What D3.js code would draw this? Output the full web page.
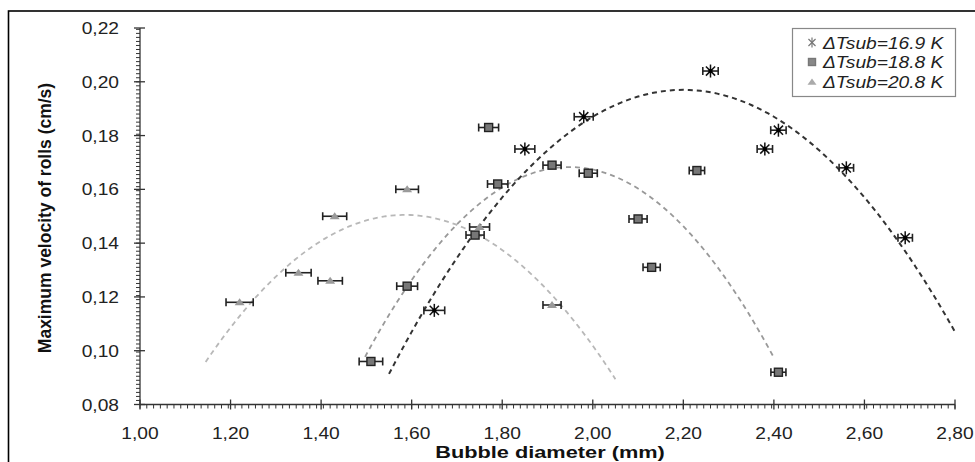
<!DOCTYPE html>
<html>
<head>
<meta charset="utf-8">
<script src="https://cdn.jsdelivr.net/npm/d3@7"></script>
<style>
  body { margin: 0; background: #fff; }
  svg { display: block; font-family: "Liberation Sans", Arial, sans-serif; }
</style>
</head>
<body>
<svg id="chart" width="975" height="462"></svg>
<script>
// series: bubble diameter (mm), max velocity (cm/s), x error (mm)
const d169X = [1.65, 1.85, 1.98, 2.26, 2.38, 2.41, 2.56, 2.69];
const d169Y = [0.115, 0.175, 0.187, 0.204, 0.175, 0.182, 0.168, 0.142];
const d169E = [0.023, 0.022, 0.021, 0.017, 0.017, 0.017, 0.016, 0.016];

const d188X = [1.51, 1.59, 1.74, 1.77, 1.79, 1.91, 1.99, 2.10, 2.13, 2.23, 2.41];
const d188Y = [0.096, 0.124, 0.143, 0.183, 0.162, 0.169, 0.166, 0.149, 0.131, 0.167, 0.092];
const d188E = [0.026, 0.023, 0.02, 0.022, 0.0225, 0.02, 0.02, 0.02, 0.019, 0.017, 0.0166];

const d208X = [1.22, 1.35, 1.42, 1.43, 1.59, 1.75, 1.91];
const d208Y = [0.118, 0.129, 0.126, 0.150, 0.160, 0.146, 0.117];
const d208E = [0.03, 0.028, 0.027, 0.0265, 0.025, 0.022, 0.02];

// polynomial trendlines: [vertex x, vertex y, curvature, from x, to x]
const trend169 = [2.20, 0.197, 0.25, 1.55, 2.80];
const trend188 = [1.948, 0.1683, 0.347, 1.497, 2.398];
const trend208 = [1.585, 0.1505, 0.2825, 1.145, 2.05];

const legendLabels = ["ΔTsub=16.9 K", "ΔTsub=18.8 K", "ΔTsub=20.8 K"];
const xTicks = [1.0, 1.2, 1.4, 1.6, 1.8, 2.0, 2.2, 2.4, 2.6, 2.8];
const yTicks = [0.08, 0.10, 0.12, 0.14, 0.16, 0.18, 0.20, 0.22];

const svg = d3.select("#chart");

const x = d3.scaleLinear().domain([1.0, 2.8]).range([140, 955]);
const y = d3.scaleLinear().domain([0.08, 0.22]).range([404.5, 28]);

const fmt = d3.formatLocale({ decimal: ",", thousands: ".", grouping: [3], currency: ["", ""] }).format(".2f");

// text in the picture is a bit wider than the font, stretch it sideways
const wideText = (g, tx, ty, sx, str) =>
  g.append("text")
    .attr("transform", `translate(${tx},${ty}) scale(${sx},1)`)
    .text(str);

// outer frame
svg.append("rect")
  .attr("x", 8.5).attr("y", 11)
  .attr("width", 990).attr("height", 470)
  .attr("fill", "none").attr("stroke", "#000").attr("stroke-width", 1.6);

const axisColor = "#333";

// x axis
const xMinor = d3.range(0, 121).map((i) => 1.0 + i * 0.015).filter((v) => v <= 2.8001);
const gx = svg.append("g");
gx.append("line")
  .attr("x1", x(1.0)).attr("x2", x(2.8))
  .attr("y1", y(0.08)).attr("y2", y(0.08))
  .attr("stroke", axisColor).attr("stroke-width", 1.3);
gx.selectAll(".minor").data(xMinor).enter().append("line")
  .attr("x1", (d) => x(d)).attr("x2", (d) => x(d))
  .attr("y1", y(0.08)).attr("y2", y(0.08) + 4)
  .attr("stroke", axisColor).attr("stroke-width", 1);
gx.selectAll(".major").data(xTicks).enter().append("line")
  .attr("x1", (d) => x(d)).attr("x2", (d) => x(d))
  .attr("y1", y(0.08) - 5).attr("y2", y(0.08) + 5)
  .attr("stroke", axisColor).attr("stroke-width", 1.3);
const gxl = gx.append("g")
  .attr("text-anchor", "middle").attr("font-size", 16).attr("fill", "#222");
xTicks.forEach((d) => wideText(gxl, x(d), y(0.08) + 34.5, 1.2, fmt(d)));

// y axis
const yMinor = d3.range(0, 95).map((i) => 0.08 + i * 0.0015).filter((v) => v <= 0.22001);
const gy = svg.append("g");
gy.append("line")
  .attr("x1", x(1.0)).attr("x2", x(1.0))
  .attr("y1", y(0.08)).attr("y2", y(0.22))
  .attr("stroke", axisColor).attr("stroke-width", 1.3);
gy.selectAll(".minor").data(yMinor).enter().append("line")
  .attr("x1", x(1.0) - 4).attr("x2", x(1.0))
  .attr("y1", (d) => y(d)).attr("y2", (d) => y(d))
  .attr("stroke", axisColor).attr("stroke-width", 1);
gy.selectAll(".major").data(yTicks).enter().append("line")
  .attr("x1", x(1.0) - 6).attr("x2", x(1.0) + 5)
  .attr("y1", (d) => y(d)).attr("y2", (d) => y(d))
  .attr("stroke", axisColor).attr("stroke-width", 1.3);
const gyl = gy.append("g")
  .attr("text-anchor", "end").attr("font-size", 16).attr("fill", "#222");
yTicks.forEach((d) => wideText(gyl, 119, y(d) + 6, 1.2, fmt(d)));

// axis titles
const gt = svg.append("g").attr("font-weight", "bold").attr("fill", "#111");
wideText(gt, 550, 457.5, 1.28, "Bubble diameter (mm)")
  .attr("text-anchor", "middle").attr("font-size", 17);
gt.append("text")
  .attr("transform", "translate(51,218) rotate(-90)")
  .attr("text-anchor", "middle")
  .attr("font-size", 17.5)
  .text("Maximum velocity of rolls (cm/s)");

// trendlines
const drawTrend = (t, color, width, dash) => {
  const [cx, cy, a, from, to] = t;
  const pts = d3.range(0, 101).map((i) => {
    const xv = from + (to - from) * i / 100;
    return [xv, cy - a * (xv - cx) * (xv - cx)];
  });
  svg.append("path")
    .attr("d", d3.line().x((d) => x(d[0])).y((d) => y(d[1]))(pts))
    .attr("fill", "none")
    .attr("stroke", color).attr("stroke-width", width)
    .attr("stroke-dasharray", dash);
};
drawTrend(trend208, "#b8b8b8", 1.8, "5,4");
drawTrend(trend188, "#999", 1.8, "5,4");
drawTrend(trend169, "#333", 2, "5,4");

// error bars
const drawErrors = (xs, ys, es) => {
  const g = svg.append("g").attr("stroke", "#222").attr("stroke-width", 1.6);
  xs.forEach((xv, i) => {
    const yp = y(ys[i]);
    g.append("line").attr("x1", x(xv - es[i])).attr("x2", x(xv + es[i])).attr("y1", yp).attr("y2", yp);
    g.append("line").attr("x1", x(xv - es[i])).attr("x2", x(xv - es[i])).attr("y1", yp - 4).attr("y2", yp + 4);
    g.append("line").attr("x1", x(xv + es[i])).attr("x2", x(xv + es[i])).attr("y1", yp - 4).attr("y2", yp + 4);
  });
};

// markers
const triangle = (g, cx, cy, s, fill) => {
  g.append("path")
    .attr("d", `M${cx},${cy - s * 0.8}L${cx + s},${cy + s * 0.6}L${cx - s},${cy + s * 0.6}Z`)
    .attr("fill", fill);
};
const square = (g, cx, cy, s, fill, stroke) => {
  g.append("rect")
    .attr("x", cx - s).attr("y", cy - s)
    .attr("width", 2 * s).attr("height", 2 * s)
    .attr("fill", fill).attr("stroke", stroke).attr("stroke-width", 1.4);
};
// excel style star: an X with a vertical bar
const star = (g, cx, cy, s, color, w) => {
  [45, 90, 135].forEach((ang) => {
    const r = (ang * Math.PI) / 180;
    g.append("line")
      .attr("x1", cx - s * Math.cos(r)).attr("y1", cy - s * Math.sin(r))
      .attr("x2", cx + s * Math.cos(r)).attr("y2", cy + s * Math.sin(r))
      .attr("stroke", color).attr("stroke-width", w);
  });
};

drawErrors(d208X, d208Y, d208E);
const g208 = svg.append("g");
d208X.forEach((xv, i) => triangle(g208, x(xv), y(d208Y[i]), 5, "#9a9a9a"));

drawErrors(d188X, d188Y, d188E);
const g188 = svg.append("g");
d188X.forEach((xv, i) => square(g188, x(xv), y(d188Y[i]), 4, "#777", "#222"));

drawErrors(d169X, d169Y, d169E);
const g169 = svg.append("g");
d169X.forEach((xv, i) => {
  star(g169, x(xv), y(d169Y[i]), 6.5, "#111", 1.5);
  g169.append("circle").attr("cx", x(xv)).attr("cy", y(d169Y[i])).attr("r", 2.2).attr("fill", "#000");
});

// legend
const lg = svg.append("g");
lg.append("rect")
  .attr("x", 792.5).attr("y", 28.5)
  .attr("width", 163).attr("height", 68)
  .attr("fill", "#fff").attr("stroke", "#888").attr("stroke-width", 1.2);
const rowY = [42.5, 62, 81.5];
star(lg, 812, rowY[0], 5, "#777", 1.2);
square(lg, 812, rowY[1], 3.5, "#888", "#777");
triangle(lg, 812, rowY[2] + 0.5, 4.5, "#aaa");
const lgt = lg.append("g")
  .attr("font-size", 16).attr("font-style", "italic").attr("fill", "#222");
legendLabels.forEach((d, i) => wideText(lgt, 823, rowY[i] + 6, 1.2, d));
</script>
</body>
</html>
